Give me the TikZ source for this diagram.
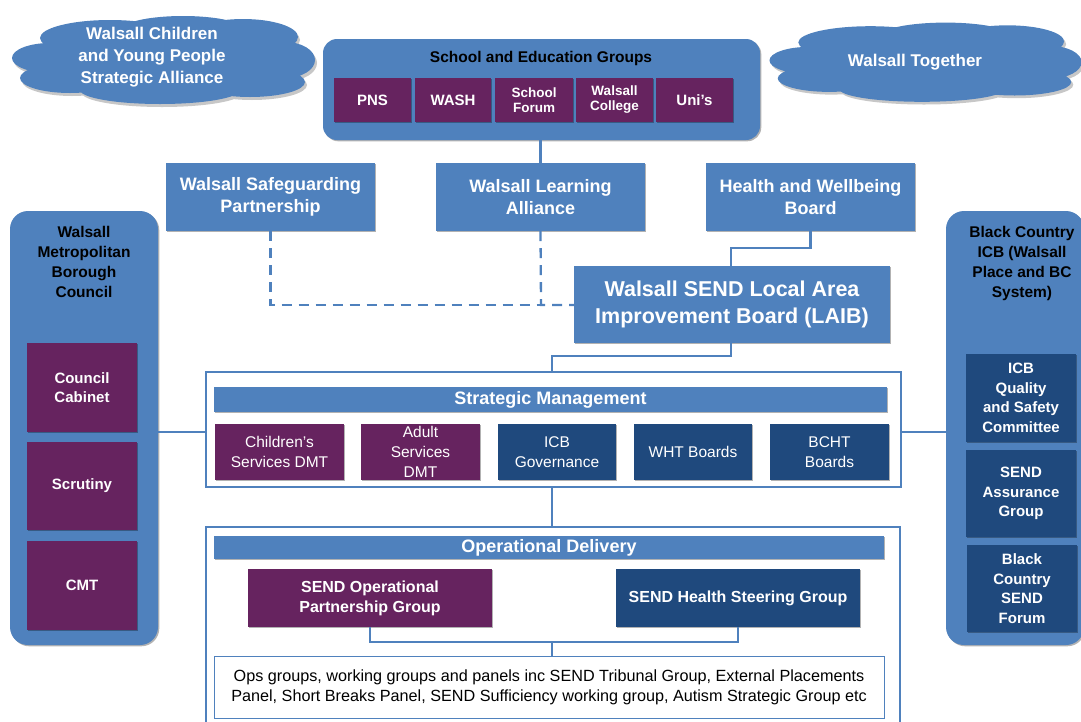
\documentclass[tikz,border=0pt]{standalone}
\usepackage{fontspec}
\setmainfont{Liberation Sans}
\usetikzlibrary{shadows,calc}
\definecolor{midblue}{HTML}{4F81BD}
\definecolor{plum}{HTML}{66235F}
\definecolor{navy}{HTML}{1F497D}
% a flat cloud built from overlapping ellipses, centred on the origin
\newcommand{\cloudoutline}{%
  (0,0) ellipse [x radius=130pt, y radius=30pt]
  (-53,-24) ellipse [x radius=70pt, y radius=18pt]
  (20,-32) ellipse [x radius=62pt, y radius=14pt]
  (80,-25) ellipse [x radius=55pt, y radius=18pt]
  (-113,-4) ellipse [x radius=38pt, y radius=15pt]
  (-93,16) ellipse [x radius=50pt, y radius=15pt]
  (-3,28) ellipse [x radius=80pt, y radius=14pt]
  (87,20) ellipse [x radius=55pt, y radius=15pt]
  (122,-2) ellipse [x radius=30pt, y radius=18pt]}
\begin{document}
\begin{tikzpicture}[x=1pt,y=-1pt,
  shade/.style={drop shadow={shadow xshift=1.3pt,shadow yshift=-1.3pt,opacity=0.3,fill=black}},
  box/.style={inner sep=0pt,align=center,shade},
  bluebox/.style={box,fill=midblue,text=white,font=\bfseries\fontsize{18}{22}\selectfont},
  plumbox/.style={box,fill=plum,text=white,font=\bfseries\fontsize{15}{19}\selectfont},
  navybox/.style={box,fill=navy,text=white,font=\bfseries\fontsize{15}{19.5}\selectfont},
  mgmtbox/.style={box,text=white,font=\fontsize{15.5}{20}\selectfont},
  panel/.style={box,fill=midblue,rounded corners=18pt},
  frame/.style={draw=midblue,line width=1.2pt,fill=white,inner sep=0pt},
  header/.style={box,fill=midblue,text=white,font=\bfseries\fontsize{18}{20}\selectfont},
  cloudtext/.style={text=white,align=center,font=\bfseries\fontsize{17}{22}\selectfont},
  title/.style={inner sep=0pt,align=center,text=black,font=\bfseries\fontsize{15.5}{20}\selectfont},
  groupfont/.style={font=\bfseries\fontsize{16}{20}\selectfont},
  link/.style={draw=midblue,line width=2.3pt},
  dlink/.style={link,dashed,dash pattern=on 10pt off 7pt}
]
\useasboundingbox (0,0) rectangle (1081,721);

% clouds
\begin{scope}[shift={(163,62)}]
  \fill[black,opacity=0.22] [shift={(2,3)}] \cloudoutline;
  \fill[midblue] \cloudoutline;
\end{scope}
\node[cloudtext] (cyp) at (152,57) {Walsall Children\\and Young People\\Strategic Alliance};
\begin{scope}[shift={(925,64)},xscale=1.03,yscale=0.9]
  \fill[black,opacity=0.22] [shift={(2,3)}] \cloudoutline;
  \fill[midblue] \cloudoutline;
\end{scope}
\node[cloudtext] (together) at (915,62) {Walsall Together};

% school and education groups
\node[panel,rounded corners=14pt,minimum width=437pt,minimum height=101pt] (school) at (541.5,89.5) {};
\node[title,font=\bfseries\fontsize{15.5}{17}\selectfont] (schooltitle) at (541,58) {School and Education Groups};
\node[plumbox,minimum width=77pt,minimum height=44pt] (pns) at (372.5,100) {PNS};
\node[plumbox,minimum width=76pt,minimum height=44pt] (wash) at (453,100) {WASH};
\node[plumbox,font=\bfseries\fontsize{13.5}{15}\selectfont,minimum width=78pt,minimum height=44pt] (forum) at (534,100) {School\\Forum};
\node[plumbox,font=\bfseries\fontsize{13.5}{15}\selectfont,minimum width=77pt,minimum height=44pt] (college) at (614.5,100) {Walsall\\College};
\node[plumbox,minimum width=77pt,minimum height=44pt] (unis) at (694.5,100) {Uni’s};

% partnership boards
\node[bluebox,minimum width=209pt,minimum height=68pt] (safe) at (270.5,197) {Walsall Safeguarding\\Partnership};
\node[bluebox,minimum width=209pt,minimum height=68pt] (learn) at (540.5,197) {Walsall Learning\\Alliance};
\node[bluebox,minimum width=209pt,minimum height=68pt] (health) at (810.5,197) {Health and Wellbeing\\Board};
\node[bluebox,font=\bfseries\fontsize{21.5}{27}\selectfont,minimum width=316pt,minimum height=77pt] (laib) at (732,304.5)
  {Walsall SEND Local Area\\Improvement Board (LAIB)};

% side panels
\node[panel,minimum width=148pt,minimum height=434pt] (council) at (84,428) {};
\node[title,anchor=north] (counciltitle) at (84,226) {Walsall\\Metropolitan\\Borough\\Council};
\node[plumbox,minimum width=110pt,minimum height=89pt] (cabinet) at (82,387.5) {Council\\Cabinet};
\node[plumbox,minimum width=110pt,minimum height=88pt] (scrutiny) at (82,486) {Scrutiny};
\node[plumbox,minimum width=110pt,minimum height=89pt] (cmt) at (82,585.5) {CMT};

\node[panel,minimum width=138pt,minimum height=434pt] (icb) at (1015,428) {};
\node[title,anchor=north] (icbtitle) at (1022,226) {Black Country\\ICB (Walsall\\Place and BC\\System)};
\node[navybox,minimum width=110pt,minimum height=88pt] (quality) at (1021,398) {ICB\\Quality\\and Safety\\Committee};
\node[navybox,minimum width=110pt,minimum height=87pt] (assure) at (1021,493.5) {SEND\\Assurance\\Group};
\node[navybox,minimum width=110pt,minimum height=87pt] (bcforum) at (1022,588.5) {Black\\Country\\SEND\\Forum};

% strategic management
\node[frame,minimum width=695pt,minimum height=115pt] (strat) at (553.5,429.5) {};
\node[header,minimum width=673pt,minimum height=25pt] (strathead) at (550.5,399.5) {Strategic Management};
\node[mgmtbox,fill=plum,minimum width=129pt,minimum height=56pt] (cdmt) at (279.5,452) {Children’s\\Services DMT};
\node[mgmtbox,fill=plum,minimum width=119pt,minimum height=56pt] (admt) at (420.5,452) {Adult\\Services\\DMT};
\node[mgmtbox,fill=navy,minimum width=118pt,minimum height=56pt] (icbgov) at (557,452) {ICB\\Governance};
\node[mgmtbox,fill=navy,minimum width=118pt,minimum height=56pt] (wht) at (693,452) {WHT Boards};
\node[mgmtbox,fill=navy,minimum width=119pt,minimum height=56pt] (bcht) at (829.5,452) {BCHT\\Boards};

% operational delivery
\node[frame,minimum width=694pt,minimum height=200pt] (oper) at (553,627) {};
\node[header,minimum width=670pt,minimum height=23pt] (operhead) at (549,547.5) {Operational Delivery};
\node[plumbox,groupfont,minimum width=244pt,minimum height=58pt] (sendop) at (370,598) {SEND Operational\\Partnership Group};
\node[navybox,groupfont,minimum width=244pt,minimum height=58pt] (sendhealth) at (738,598) {SEND Health Steering Group};
\node[frame,line width=1pt,minimum width=670pt,minimum height=62pt,align=center,
  font=\fontsize{16.2}{20}\selectfont] (ops) at (549,687)
  {Ops groups, working groups and panels inc SEND Tribunal Group, External Placements\\
   Panel, Short Breaks Panel, SEND Sufficiency working group, Autism Strategic Group etc};

% junction points
\coordinate (jh) at (731,248);
\coordinate (jd) at (541,305);
\coordinate (jl) at (552,356);
\coordinate (jrow) at (0,432);
\coordinate (jo) at (552,642);

% connectors
\draw[link] (school.south -| learn.north) -- (learn.north);
\draw[link] (health.south) |- (jh) -- (jh |- laib.north);
\draw[dlink] (safe.south) |- (jd);
\draw[dlink] (learn.south) -- (jd) -- (jd -| laib.west);
\draw[link] (laib.south -| jh) |- (jl) -- (jl |- strat.north);
\draw[link] (jrow -| council.east) -- (jrow -| strat.west);
\draw[link] (jrow -| strat.east) -- (jrow -| icb.west);
\draw[link] (jl |- strat.south) -- (jl |- oper.north);
\draw[link] (sendop.south) |- (jo) -| (sendhealth.south);
\draw[link] (jo) -- (jo |- ops.north);
\end{tikzpicture}
\end{document}
